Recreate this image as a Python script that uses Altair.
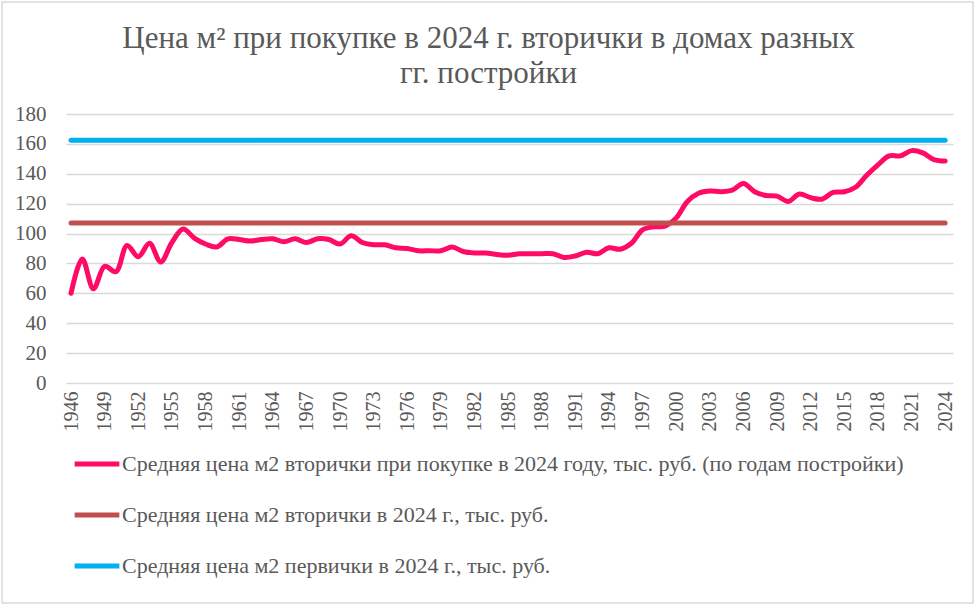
import altair as alt
import pandas as pd

years = list(range(1946, 2025))
resale_by_year = [
    60, 83, 63, 78, 74.5, 92, 84.5, 93.5, 81, 94,
    103, 97, 93, 91, 96.5, 96, 95, 96, 96.5, 94.5,
    96.5, 94, 96.5, 96, 93, 98.5, 94, 92.5, 92.5, 90.5,
    90, 88.5, 88.5, 88.5, 91, 88, 87, 87, 86, 85.5,
    86.5, 86.5, 86.5, 86.5, 84, 85, 87.5, 86.5, 90.5, 89.5,
    93.5, 102.5, 104.5, 105, 110.5, 121.5, 127, 128.5, 128, 129,
    133.5, 128, 125.5, 125, 121.5, 126.5, 124, 123, 127.5, 128,
    131, 139, 146, 152, 152, 155.5, 154, 149.5, 148.5,
]
avg_resale_2024 = 107
avg_new_2024 = 162.5

s_pink = "Средняя цена м2 вторички при покупке в 2024 году, тыс. руб. (по годам постройки)"
s_red = "Средняя цена м2 вторички в 2024 г., тыс. руб."
s_blue = "Средняя цена м2 первички в 2024 г., тыс. руб."
series_names = [s_pink, s_red, s_blue]
series_colors = ["#FF0A66", "#C0504D", "#00B0F0"]
tick_years = list(range(1946, 2025, 3))

rows = []
for y, v in zip(years, resale_by_year):
    rows.append({"series": s_pink, "year": y, "value": v})
for y in years:
    rows.append({"series": s_red, "year": y, "value": avg_resale_2024})
for y in years:
    rows.append({"series": s_blue, "year": y, "value": avg_new_2024})
df = pd.DataFrame(rows)

FONT = "Liberation Serif"
GRAY = "#595959"
W, H = 887, 269

lines = alt.Chart(df).mark_line(strokeWidth=5, interpolate="catmull-rom", strokeCap="round").encode(
    x=alt.X("year:Q",
            scale=alt.Scale(domain=[1945.55, 2024.7], nice=False, zero=False),
            axis=alt.Axis(values=tick_years, labelAngle=-90, labelAlign="right", labelBaseline="middle",
                          labelFont=FONT, labelFontSize=20, labelColor=GRAY, labelPadding=8,
                          grid=False, domain=False, ticks=False, title=None, format="d",
                          labelFlush=False, labelOverlap=False)),
    y=alt.Y("value:Q",
            scale=alt.Scale(domain=[0, 180], nice=False),
            axis=alt.Axis(values=list(range(0, 181, 20)), labelFont=FONT, labelFontSize=21,
                          labelColor=GRAY, labelPadding=20, grid=True, gridColor="#D9D9D9",
                          gridWidth=1.3, domain=False, ticks=False, title=None)),
    color=alt.Color("series:N",
                    scale=alt.Scale(domain=series_names, range=series_colors),
                    sort=series_names,
                    legend=alt.Legend(orient="none", legendX=6, legendY=325, direction="vertical",
                                      title=None, symbolType="stroke", symbolStrokeWidth=5,
                                      symbolSize=2000, labelFont=FONT, labelFontSize=22,
                                      labelColor=GRAY, labelLimit=0, rowPadding=15,
                                      labelOffset=0)),
    order=alt.Order("year:Q"),
)

border = alt.Chart(pd.DataFrame({"k": [0]})).mark_rect(
    fill=None, stroke="#D9D9D9", strokeWidth=1.5
).encode(
    x=alt.value(-64), x2=alt.value(W + 20), y=alt.value(-112), y2=alt.value(H + 220)
)

chart = alt.layer(border, lines).properties(
    width=W,
    height=H,
    title=alt.TitleParams(
        text=["Цена м² при покупке в 2024 г. вторички в домах разных", "гг. постройки"],
        font=FONT, fontSize=31, fontWeight="normal", color=GRAY, anchor="middle",
        frame="group", dx=-21, offset=-89, lineHeight=35,
    ),
    autosize=alt.AutoSizeParams(type="none"),
    padding={"left": 66, "top": 114, "right": 23, "bottom": 223},
    background="white",
).configure_view(stroke=None)

chart.save("out.html", embed_options={"renderer": "svg", "actions": False})
